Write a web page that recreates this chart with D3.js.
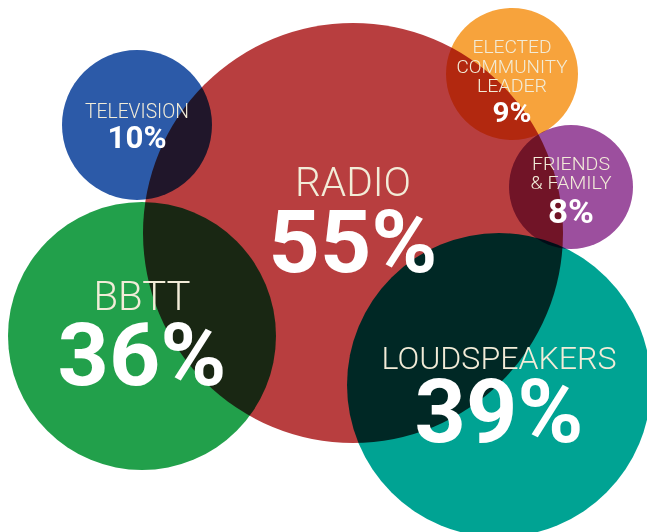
<!doctype html>
<html lang="en">
<head>
  <meta charset="UTF-8">
  <title>Information sources</title>
  <script src="https://cdn.jsdelivr.net/npm/d3@7"></script>
  <style>
    html, body { margin: 0; padding: 0; background: #fff; }
    svg { display: block; }
    .bubble { mix-blend-mode: multiply; }
  </style>
</head>
<body>
<div id="container"></div>
<script type="text/javascript">
// data
var categories = ['RADIO', 'LOUDSPEAKERS', 'BBTT', 'TELEVISION', 'ELECTED COMMUNITY LEADER', 'FRIENDS & FAMILY'];
var values = [55, 39, 36, 10, 9, 8];
var labelLines = [['RADIO'], ['LOUDSPEAKERS'], ['BBTT'], ['TELEVISION'], ['ELECTED', 'COMMUNITY', 'LEADER'], ['FRIENDS', '& FAMILY']];
var colors = ['#B83E3F', '#00A393', '#22A04B', '#2C5AA8', '#F7A33C', '#9C4F9E'];

// layout (hand placed, like the original graphic)
var centers = [[353, 233], [499, 385], [142, 336], [137, 125], [512, 74], [571, 187]];
var radii = [210, 152, 134, 75, 66, 62];
// label font size, label line widths, percent font size, percent width, baselines
var labelSize = [40, 31, 41, 20, 18, 18];
var labelWidths = [[116], [235], [97], [104], [79, 111, 70], [78, 81]];
var labelBase = [[196], [369], [310], [118], [53, 73, 92], [170, 189]];
var pctSize = [88, 89, 87, 31, 27, 34];
var pctWidth = [169, 169, 169, 59, 39, 46];
var pctBase = [272, 442, 385, 148, 122, 223];

var width = 647, height = 532;

var svg = d3.select('#container').append('svg')
  .attr('width', width)
  .attr('height', height)
  .style('isolation', 'isolate');

svg.append('rect')
  .attr('width', width)
  .attr('height', height)
  .attr('fill', '#fff');

var color = d3.scaleOrdinal().domain(categories).range(colors);

var items = categories.map(function(c, i) {
  return { name: c, value: values[i], i: i };
});

svg.selectAll('.bubble')
  .data(items)
  .enter()
  .append('circle')
  .attr('class', 'bubble')
  .attr('cx', function(d) { return centers[d.i][0]; })
  .attr('cy', function(d) { return centers[d.i][1]; })
  .attr('r', function(d) { return radii[d.i]; })
  .attr('fill', function(d) { return color(d.name); });

var fmt = function(v) { return v + '%'; };

items.forEach(function(d) {
  var cx = centers[d.i][0];
  labelLines[d.i].forEach(function(line, k) {
    svg.append('text')
      .attr('x', cx)
      .attr('y', labelBase[d.i][k])
      .attr('text-anchor', 'middle')
      .attr('textLength', labelWidths[d.i][k])
      .attr('lengthAdjust', 'spacingAndGlyphs')
      .style('font-family', 'Roboto, sans-serif')
      .style('font-weight', 300)
      .style('font-size', labelSize[d.i] + 'px')
      .attr('fill', '#F2ECD8')
      .text(line);
  });
  svg.append('text')
    .attr('x', cx)
    .attr('y', pctBase[d.i])
    .attr('text-anchor', 'middle')
    .attr('textLength', pctWidth[d.i])
    .attr('lengthAdjust', 'spacingAndGlyphs')
    .style('font-family', 'Roboto, sans-serif')
    .style('font-weight', 700)
    .style('font-size', pctSize[d.i] + 'px')
    .attr('fill', '#FFFFFF')
    .text(fmt(d.value));
});
</script>
</body>
</html>
